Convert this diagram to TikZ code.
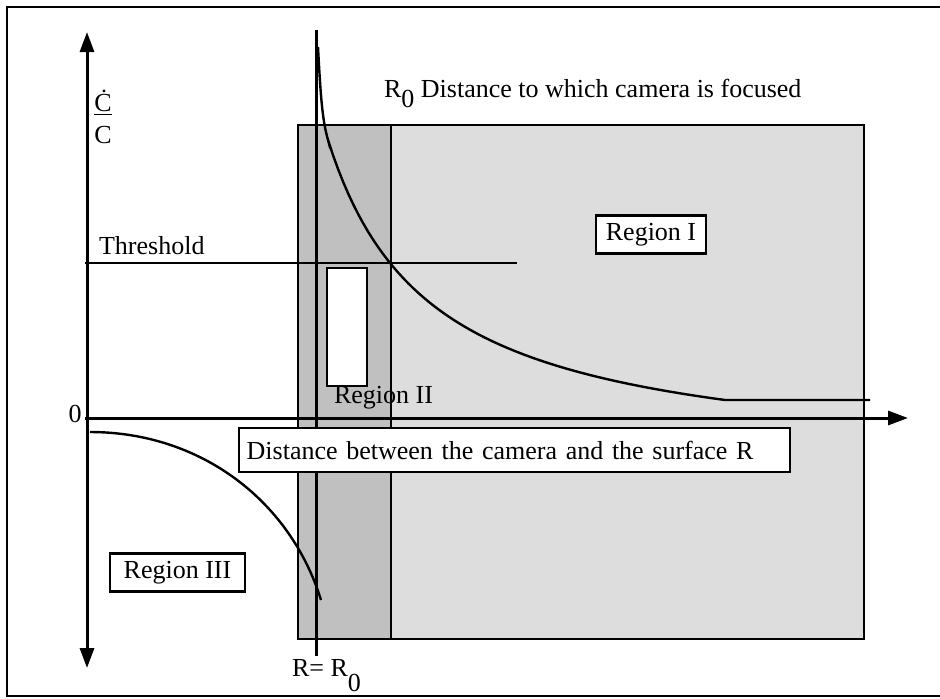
\documentclass[tikz,border=0pt]{standalone}
\usepackage{fontspec}
\setmainfont{Liberation Serif}
\usetikzlibrary{arrows.meta}
\definecolor{regionLight}{HTML}{DDDDDD}
\definecolor{regionDark}{HTML}{C0C0C0}
\newcommand{\lowzero}[1][0.85ex]{\raisebox{-#1}{0}}

\begin{document}
\begin{tikzpicture}[x=0.5pt, y=-0.5pt, line width=1.1pt,
                    every node/.style={font=\fontsize{13}{15}\selectfont, inner sep=0pt},
                    >={Triangle[length=10pt, width=7pt]},
                    axis/.style={line width=1.5pt},
                    crv/.style={line width=1.2pt},
                    regbox/.style={draw, fill=white, line width=1.2pt, inner xsep=5pt,
                                   minimum height=19pt}
                ]
                    \useasboundingbox (0,0) rectangle (940,698);
                    % outer frame
                    \draw (940,7) -- (7,7) -- (7,696) -- (940,696);
                    % shaded regions
                    \draw[fill=regionLight] (298,125) rectangle (864,639);
                    \draw[fill=regionDark] (298,125) rectangle (391,639);
                    \draw[fill=white] (327,268) rectangle (367,386);
                    % axes
                    \coordinate (ybot) at (87,668);
                    \coordinate (ytop) at (87,32);
                    \coordinate (xleft) at (85,418);
                    \coordinate (xright) at (908,418);
                    \draw[axis, <->] (ybot) -- (ytop);
                    \draw[axis, ->] (xleft) -- (xright);
                    % threshold and R = R0
                    \coordinate (th0) at (85,263);
                    \coordinate (th1) at (517,263);
                    \draw[crv] (th0) -- (th1);
                    \coordinate (r0top) at (316,30);
                    \coordinate (r0bot) at (316,656);
                    \draw[axis] (r0top) -- (r0bot);
                    % curves
                    \draw[crv] (318,47) .. controls (321,105) and (323,122) .. (328,140)
                        -- plot[domain=328:725, samples=80] (\x, {467.5 - 337.7/((\x-224.9)/100)})
                        -- (870,400);
                    \draw[crv] (90,432) .. controls (200,432) and (290,500) .. (321,600);
                    % labels
                    \node[align=center] (ratio) at (103,117) {\underline{\.{C}}\\[1pt]C};
                    \node[anchor=base] (zero) at (75,422) {0};
                    \node[anchor=base west] (thr) at (98,254) {Threshold};
                    \node[anchor=base west] (focus) at (383,97) {R\lowzero{} Distance to which camera is focused};
                    \node[anchor=base west] (req) at (291,676) {R= R\lowzero[1.3ex]};
                    \node[regbox, minimum width=55pt] (reg1) at (651,234.5) {Region I};
                    \node[anchor=base] (reg2) at (383.5,403) {Region II};
                    \node[regbox, minimum width=67.5pt] (reg3) at (177.5,572.5) {Region III};
                    \node[regbox, anchor=north west, minimum width=275.5pt, minimum height=22pt,
                          text width=268pt, align=left, inner xsep=3.5pt] (dist) at (238,427)
                          {Distance between the camera and the surface R};
                \end{tikzpicture}
\end{document}
